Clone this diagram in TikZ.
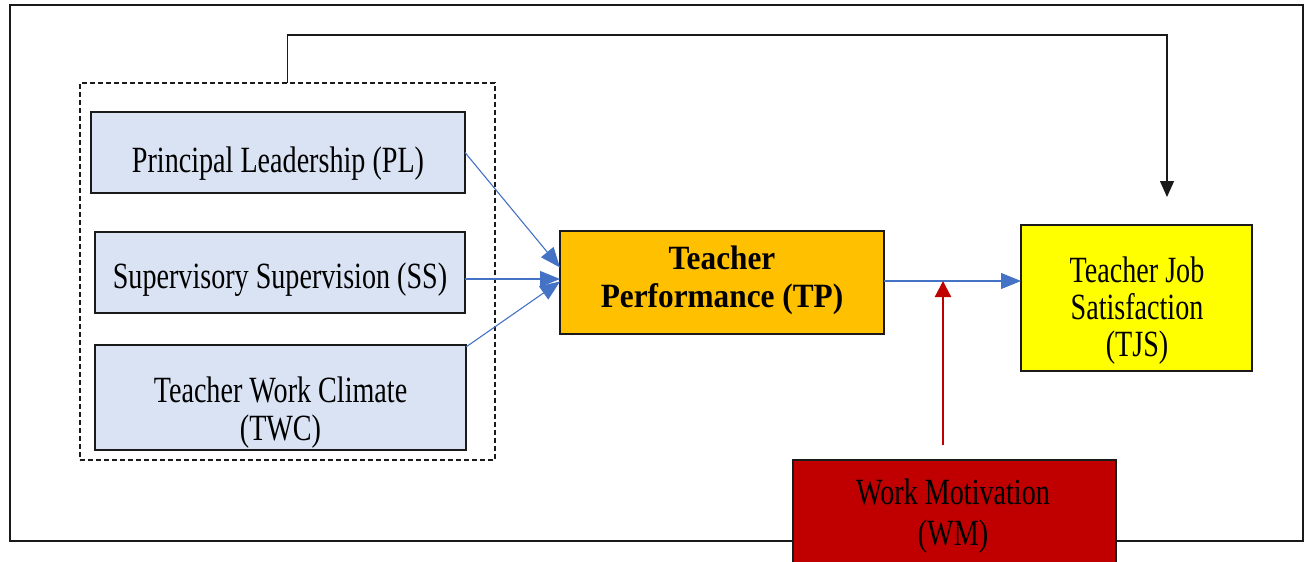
\documentclass[tikz,border=0pt]{standalone}
\usepackage{fontspec}
\setmainfont{Liberation Serif}[FakeStretch=0.76]
\newfontfamily\tpfont{Liberation Serif}[FakeStretch=0.92]
\usetikzlibrary{arrows.meta,calc}
\definecolor{boxblue}{HTML}{DAE3F3}
\definecolor{lineblue}{HTML}{4472C4}
\definecolor{tporange}{HTML}{FFC000}
\definecolor{tjsyellow}{HTML}{FFFF00}
\definecolor{wmred}{HTML}{C00000}
\definecolor{edgegray}{HTML}{1A1A1A}
\begin{document}
\begin{tikzpicture}[x=1pt,y=-1pt,
  box/.style={draw=edgegray,line width=1.4pt,inner sep=0pt,outer sep=0pt,rectangle},
  txt/.style={font=\fontsize{37}{38}\selectfont,align=center,inner sep=0pt},
  tptxt/.style={font=\tpfont\bfseries\fontsize{34}{37}\selectfont,align=center,inner sep=0pt},
  bluearrow/.style={draw=lineblue,line width=1.1pt,-{Triangle[length=20pt,width=16pt]}},
  blackarrow/.style={draw=edgegray,line width=1.3pt,-{Triangle[length=16pt,width=14pt]}},
  redarrow/.style={draw=wmred,line width=2.2pt,-{Triangle[length=16pt,width=16pt]}}
]
\useasboundingbox (0,0) rectangle (1309,562);
\clip (0,0) rectangle (1309,562);
% outer frame
\node[box,minimum width=1293,minimum height=536] (frame) at (656.5,273) {};
% dashed group
\node[draw=edgegray,line width=1.2pt,dash pattern=on 5pt off 3pt,rectangle,inner sep=0pt,outer sep=0pt,minimum width=415,minimum height=377] (grp) at (287.5,271.5) {};
% boxes
\node[box,fill=boxblue,minimum width=374,minimum height=81] (PL) at (278,152.5) {};
\node[box,fill=boxblue,minimum width=370,minimum height=81] (SS) at (280,272.5) {};
\node[box,fill=boxblue,minimum width=371,minimum height=105] (TWC) at (280.5,397.5) {};
\node[box,fill=tporange,minimum width=324,minimum height=103] (TP) at (722,282.5) {};
\node[box,fill=tjsyellow,minimum width=231,minimum height=146] (TJS) at (1136.5,298) {};
\node[box,fill=wmred,minimum width=323,minimum height=140] (WM) at (954.5,530) {};
% texts
\node[txt,anchor=base] (PLt) at (278,172) {Principal Leadership (PL)};
\node[txt,anchor=base] (SSt) at (280,288) {Supervisory Supervision (SS)};
\node[txt] (TWCt) at (280.5,413) {Teacher Work Climate\\(TWC)};
\node[tptxt,font=\tpfont\bfseries\fontsize{34}{38}\selectfont] (TPt) at (722,280) {Teacher\\Performance (TP)};
\node[txt,font=\fontsize{37}{37}\selectfont] (TJSt) at (1137,311) {Teacher Job\\Satisfaction\\(TJS)};
\node[txt,font=\fontsize{37}{41}\selectfont] (WMt) at (953,516) {Work Motivation\\(WM)};
% connectors
\draw[bluearrow] (PL.east) -- ([yshift=15pt]TP.west);
\draw[bluearrow] (SS.east |- 0,279) -- (TP.west |- 0,279);
\draw[bluearrow] ([yshift=-2pt]TWC.north east) -- ([yshift=1pt]TP.west);
\coordinate (mod) at (943,281);
\draw[bluearrow] (TP.east |- mod) -- (TJS.west |- mod);
\coordinate (wmtail) at (943,445);
\draw[redarrow] (wmtail) -- (mod);
\coordinate (fbtop) at (287.5,35);
\coordinate (fbend) at (1167,197);
\draw[blackarrow] (grp.north) -- (fbtop) -| (fbend);
\end{tikzpicture}
\end{document}
